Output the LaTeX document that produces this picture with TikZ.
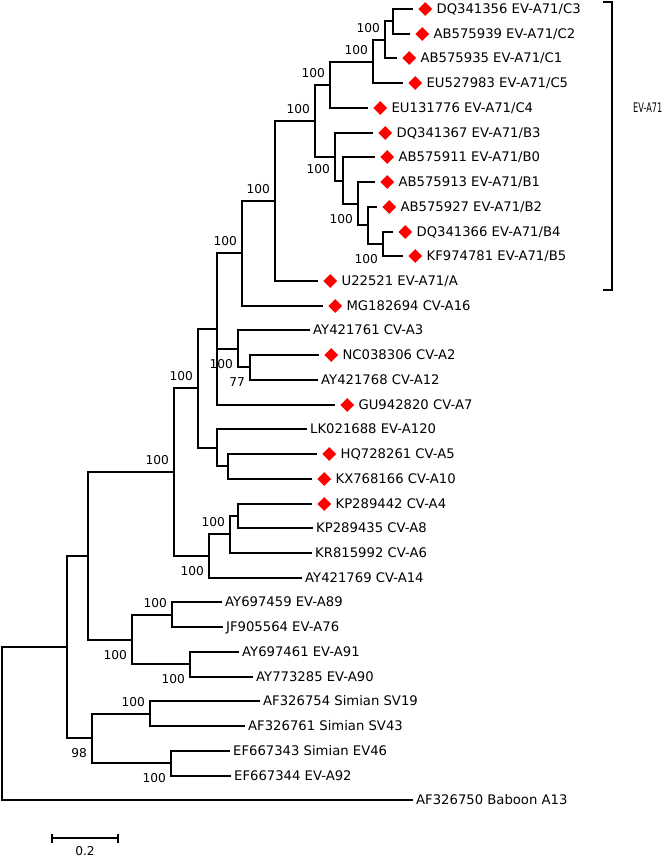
\documentclass[tikz,border=0pt]{standalone}
\usepackage{fontspec}
\newfontfamily\treefont{DejaVu Sans}
\usepackage{tikz}
\usetikzlibrary{shapes.geometric,positioning}
\tikzset{
  br/.style={to path={|- (\tikztotarget)}},
  mk/.style={diamond,fill=red,inner sep=0pt,minimum size=14pt},
  tx/.style={anchor=west,inner sep=2pt,text height=9.6pt,text depth=0pt,font=\treefont\fontsize{13.2}{15}\selectfont},
  bs/.style={anchor=east,inner sep=0pt,font=\treefont\fontsize{12.2}{14}\selectfont},
  bsa/.style={bs,xshift=-5pt,yshift=12pt},
  bsb/.style={bs,xshift=-5pt,yshift=-15pt}
}
\begin{document}
\begin{tikzpicture}[x=1pt,y=-1pt]
   \useasboundingbox (0,0) rectangle (665,858);
   % leaf tips
   \coordinate (t1) at (413,9);
   \coordinate (t2) at (410,34);
   \coordinate (t3) at (397,58);
   \coordinate (t4) at (403,83);
   \coordinate (t5) at (368,108);
   \coordinate (t6) at (373,133);
   \coordinate (t7) at (375,157);
   \coordinate (t8) at (375,182);
   \coordinate (t9) at (377,207);
   \coordinate (t10) at (393,232);
   \coordinate (t11) at (403,256);
   \coordinate (t12) at (318,281);
   \coordinate (t13) at (323,306);
   \coordinate (t14) at (310,330);
   \coordinate (t15) at (319,355);
   \coordinate (t16) at (318,380);
   \coordinate (t17) at (335,405);
   \coordinate (t18) at (307,429);
   \coordinate (t19) at (317,454);
   \coordinate (t20) at (312,479);
   \coordinate (t21) at (312,504);
   \coordinate (t22) at (313,528);
   \coordinate (t23) at (312,553);
   \coordinate (t24) at (302,578);
   \coordinate (t25) at (222,602);
   \coordinate (t26) at (223,627);
   \coordinate (t27) at (239,652);
   \coordinate (t28) at (253,677);
   \coordinate (t29) at (260,701);
   \coordinate (t30) at (245,726);
   \coordinate (t31) at (230,751);
   \coordinate (t32) at (231,776);
   \coordinate (t33) at (413,800);
   % inner nodes
   \coordinate (c32) at (393,21);
   \coordinate (c1) at (385,40);
   \coordinate (c5) at (373,62);
   \coordinate (c4) at (330,85);
   \coordinate (bb3) at (335,157);
   \coordinate (bb0) at (343,181);
   \coordinate (bb1) at (358,204);
   \coordinate (bb2) at (368,225);
   \coordinate (bb4) at (383,244);
   \coordinate (cb) at (315,121);
   \coordinate (a71) at (275,201);
   \coordinate (a16) at (242,253);
   \coordinate (pa) at (217,329);
   \coordinate (a3) at (238,349);
   \coordinate (a2) at (250,367);
   \coordinate (a120) at (217,448);
   \coordinate (a5) at (228,466);
   \coordinate (cva) at (198,388);
   \coordinate (a4) at (238,516);
   \coordinate (a6) at (230,534);
   \coordinate (a14) at (209,556);
   \coordinate (ev) at (174,472);
   \coordinate (a89) at (172,615);
   \coordinate (a91) at (190,664);
   \coordinate (ab) at (132,640);
   \coordinate (ea) at (88,556);
   \coordinate (sv) at (150,714);
   \coordinate (ev46) at (171,763);
   \coordinate (sim) at (92,738);
   \coordinate (ing) at (67,647);
   \coordinate (root) at (2,724);
   % leaves
   \node[mk,right=5pt of t1] (m1) {};
   \node[tx,right=2pt of m1] (l1) {DQ341356 EV-A71/C3};
   \node[mk,right=5pt of t2] (m2) {};
   \node[tx,right=2pt of m2] (l2) {AB575939 EV-A71/C2};
   \node[mk,right=5pt of t3] (m3) {};
   \node[tx,right=2pt of m3] (l3) {AB575935 EV-A71/C1};
   \node[mk,right=5pt of t4] (m4) {};
   \node[tx,right=2pt of m4] (l4) {EU527983 EV-A71/C5};
   \node[mk,right=5pt of t5] (m5) {};
   \node[tx,right=2pt of m5] (l5) {EU131776 EV-A71/C4};
   \node[mk,right=5pt of t6] (m6) {};
   \node[tx,right=2pt of m6] (l6) {DQ341367 EV-A71/B3};
   \node[mk,right=5pt of t7] (m7) {};
   \node[tx,right=2pt of m7] (l7) {AB575911 EV-A71/B0};
   \node[mk,right=5pt of t8] (m8) {};
   \node[tx,right=2pt of m8] (l8) {AB575913 EV-A71/B1};
   \node[mk,right=5pt of t9] (m9) {};
   \node[tx,right=2pt of m9] (l9) {AB575927 EV-A71/B2};
   \node[mk,right=5pt of t10] (m10) {};
   \node[tx,right=2pt of m10] (l10) {DQ341366 EV-A71/B4};
   \node[mk,right=5pt of t11] (m11) {};
   \node[tx,right=2pt of m11] (l11) {KF974781 EV-A71/B5};
   \node[mk,right=5pt of t12] (m12) {};
   \node[tx,right=2pt of m12] (l12) {U22521 EV-A71/A};
   \node[mk,right=5pt of t13] (m13) {};
   \node[tx,right=2pt of m13] (l13) {MG182694 CV-A16};
   \node[tx,right=1pt of t14] (l14) {AY421761 CV-A3};
   \node[mk,right=5pt of t15] (m15) {};
   \node[tx,right=2pt of m15] (l15) {NC038306 CV-A2};
   \node[tx,right=1pt of t16] (l16) {AY421768 CV-A12};
   \node[mk,right=5pt of t17] (m17) {};
   \node[tx,right=2pt of m17] (l17) {GU942820 CV-A7};
   \node[tx,right=1pt of t18] (l18) {LK021688 EV-A120};
   \node[mk,right=5pt of t19] (m19) {};
   \node[tx,right=2pt of m19] (l19) {HQ728261 CV-A5};
   \node[mk,right=5pt of t20] (m20) {};
   \node[tx,right=2pt of m20] (l20) {KX768166 CV-A10};
   \node[mk,right=5pt of t21] (m21) {};
   \node[tx,right=2pt of m21] (l21) {KP289442 CV-A4};
   \node[tx,right=1pt of t22] (l22) {KP289435 CV-A8};
   \node[tx,right=1pt of t23] (l23) {KR815992 CV-A6};
   \node[tx,right=1pt of t24] (l24) {AY421769 CV-A14};
   \node[tx,right=1pt of t25] (l25) {AY697459 EV-A89};
   \node[tx,right=1pt of t26] (l26) {JF905564 EV-A76};
   \node[tx,right=1pt of t27] (l27) {AY697461 EV-A91};
   \node[tx,right=1pt of t28] (l28) {AY773285 EV-A90};
   \node[tx,right=1pt of t29] (l29) {AF326754 Simian SV19};
   \node[tx,right=1pt of t30] (l30) {AF326761 Simian SV43};
   \node[tx,right=1pt of t31] (l31) {EF667343 Simian EV46};
   \node[tx,right=1pt of t32] (l32) {EF667344 EV-A92};
   \node[tx,right=1pt of t33] (l33) {AF326750 Baboon A13};
   % branches
   \begin{scope}[line width=2pt]
    \draw (c32) edge[br] (t1) edge[br] (t2);
    \draw (c1) edge[br] (c32) edge[br] (t3);
    \draw (c5) edge[br] (c1) edge[br] (t4);
    \draw (c4) edge[br] (c5) edge[br] (t5);
    \draw (bb4) edge[br] (t10) edge[br] (t11);
    \draw (bb2) edge[br] (t9) edge[br] (bb4);
    \draw (bb1) edge[br] (t8) edge[br] (bb2);
    \draw (bb0) edge[br] (t7) edge[br] (bb1);
    \draw (bb3) edge[br] (t6) edge[br] (bb0);
    \draw (cb) edge[br] (c4) edge[br] (bb3);
    \draw (a71) edge[br] (cb) edge[br] (t12);
    \draw (a16) edge[br] (a71) edge[br] (t13);
    \draw (a2) edge[br] (t15) edge[br] (t16);
    \draw (a3) edge[br] (t14) edge[br] (a2);
    \draw (pa) edge[br] (a16) edge[br] (a3) edge[br] (t17);
    \draw (a5) edge[br] (t19) edge[br] (t20);
    \draw (a120) edge[br] (t18) edge[br] (a5);
    \draw (cva) edge[br] (pa) edge[br] (a120);
    \draw (a4) edge[br] (t21) edge[br] (t22);
    \draw (a6) edge[br] (a4) edge[br] (t23);
    \draw (a14) edge[br] (a6) edge[br] (t24);
    \draw (ev) edge[br] (cva) edge[br] (a14);
    \draw (a89) edge[br] (t25) edge[br] (t26);
    \draw (a91) edge[br] (t27) edge[br] (t28);
    \draw (ab) edge[br] (a89) edge[br] (a91);
    \draw (ea) edge[br] (ev) edge[br] (ab);
    \draw (sv) edge[br] (t29) edge[br] (t30);
    \draw (ev46) edge[br] (t31) edge[br] (t32);
    \draw (sim) edge[br] (sv) edge[br] (ev46);
    \draw (ing) edge[br] (ea) edge[br] (sim);
    \draw (root) edge[br] (ing) edge[br] (t33);
   \end{scope}
   % bootstrap values
   \node[bsa] (v1) at (c1) {100};
   \node[bsa] (v2) at (c5) {100};
   \node[bsa] (v3) at (c4) {100};
   \node[bsa] (v4) at (cb) {100};
   \node[bsa,xshift=-8pt] (v5) at (bb0) {100};
   \node[bsb] (v6) at (bb1) {100};
   \node[bsb] (v7) at (bb4) {100};
   \node[bsa] (v8) at (a71) {100};
   \node[bsa] (v9) at (a16) {100};
   \node[bsb] (v10) at (a3) {100};
   \node[bsb] (v11) at (a2) {77};
   \node[bsa] (v12) at (cva) {100};
   \node[bsa] (v13) at (ev) {100};
   \node[bsa] (v14) at (a6) {100};
   \node[bsb] (v15) at (a14) {100};
   \node[bsa] (v16) at (a89) {100};
   \node[bsb] (v17) at (ab) {100};
   \node[bsb] (v18) at (a91) {100};
   \node[bsa] (v19) at (sv) {100};
   \node[bsb] (v20) at (sim) {98};
   \node[bsb] (v21) at (ev46) {100};
   % clade bracket
   \coordinate (k1) at (603,2);
   \coordinate (k2) at (612,146);
   \coordinate (k3) at (603,290);
   \draw[line width=2pt] (k1) -| (k2) |- (k3);
   \node[tx] (clade) at (631,108) {\scalebox{0.62}[1]{EV-A71}};
   % scale bar
   \coordinate (s1) at (52,838);
   \coordinate (s2) at (118,838);
   \draw[line width=2pt] (s1) -- (s2);
   \draw[line width=2pt] ([yshift=4.5pt]s1) -- ([yshift=-4.5pt]s1);
   \draw[line width=2pt] ([yshift=4.5pt]s2) -- ([yshift=-4.5pt]s2);
   \node[bs,anchor=center] (sc) at (85,851) {0.2};
\end{tikzpicture}
\end{document}
